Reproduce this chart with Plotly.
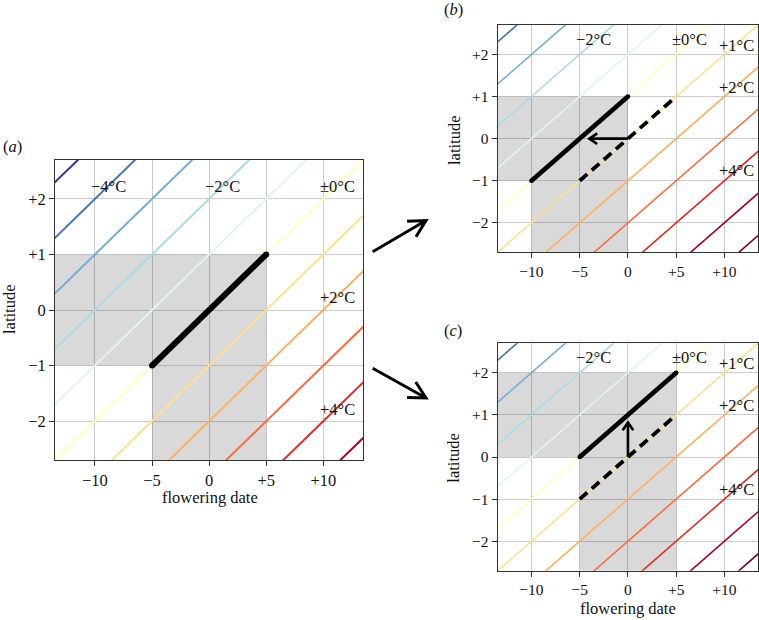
import math
import plotly.graph_objects as go

W, H = 759, 620
FONT = "Liberation Serif, Times New Roman, serif"

# ---------------- data ----------------
date_ticks = [-10, -5, 0, 5, 10]
date_ticktext = ["−10", "−5", "0", "+5", "+10"]
lat_ticks = [-2, -1, 0, 1, 2]
lat_ticktext = ["−2", "−1", "0", "+1", "+2"]
date_range = [-13.5, 13.5]
lat_range = [-2.7, 2.7]

isotherm_slope = 0.2                      # latitude units per flowering-date unit
isotherm_intercepts = [5, 4, 3, 2, 1, 0, -1, -2, -3, -4, -5]
temp_colors = {-5: "#313695", -4: "#4575b4", -3: "#74add1", -2: "#abd9e9",
               -1: "#e0f3f8", 0: "#ffffbf", 1: "#fee090", 2: "#fdae61",
               3: "#f46d43", 4: "#d73027", 5: "#a50026", 6: "#7a0022"}

panel_names = ["a", "b", "c"]
panel_warming = [0, 1, 1]
window_date = [(-5, 5), (-10, 0), (-5, 5)]
window_lat = [(-1, 1), (-1, 1), (0, 2)]
baseline_date = (-5, 5)
baseline_lat = (-1, 1)
shift_from = [None, (0, 0), (0, 0)]
shift_to = [None, (-4, 0), (0, 0.82)]

label_temps = [[-4, -2, 0, 2, 4], [-2, 0, 1, 2, 4], [-2, 0, 1, 2, 4]]
label_date = [[-8.8, 1.2, 11.2, 11.2, 11.2], [-3.6, 6.4, 11.3, 11.3, 11.3],
              [-3.6, 6.4, 11.3, 11.3, 11.3]]
label_lat = [[2.22, 2.22, 2.22, 0.23, -1.79], [2.36, 2.36, 2.22, 1.22, -0.76],
             [2.36, 2.36, 2.22, 1.22, -0.76]]

# ---------------- layout geometry (pixels) ----------------
dom_px = [  # left, right, top, bottom
    (55, 363.3, 160, 460),
    (497.7, 758.2, 25, 252.3),
    (497.7, 758.2, 343.3, 570.7),
]
tick_size = [16.5, 15.5, 15.5]
iso_width = [2.0, 1.6, 1.6]
thick_width = [6.0, 4.6, 4.6]
TXT = 16.5

fig = go.Figure()


def temp_text(t):
    if t == 0:
        return "±0°C"
    return ("+" if t > 0 else "−") + f"{abs(t)}°C"


for i, name in enumerate(panel_names):
    xa = "x" if i == 0 else f"x{i+1}"
    ya = "y" if i == 0 else f"y{i+1}"
    l, r, t, b = dom_px[i]
    sx = (r - l) / (date_range[1] - date_range[0])
    sy = (b - t) / (lat_range[1] - lat_range[0])

    # shading
    d0, d1 = window_date[i]
    y0, y1 = window_lat[i]
    for (ax0, ax1, by0, by1) in [(date_range[0], d1, y0, y1), (d0, d1, lat_range[0], y0)]:
        fig.add_shape(type="rect", xref=xa, yref=ya, x0=ax0, x1=ax1, y0=by0, y1=by1,
                      fillcolor="#d9d9d9", line_width=0, layer="below")

    # isotherms
    for c in isotherm_intercepts:
        T = panel_warming[i] - c
        xs = [date_range[0] - 1, date_range[1] + 1]
        ys = [isotherm_slope * x + c for x in xs]
        fig.add_trace(go.Scatter(x=xs, y=ys, mode="lines", xaxis=xa, yaxis=ya,
                                 line=dict(color=temp_colors[T], width=iso_width[i]),
                                 hoverinfo="skip", showlegend=False))

    # baseline (dashed) in b/c
    if i > 0:
        fig.add_trace(go.Scatter(x=list(baseline_date), y=list(baseline_lat), mode="lines",
                                 xaxis=xa, yaxis=ya,
                                 line=dict(color="black", width=3.8, dash="10px,6px"),
                                 hoverinfo="skip", showlegend=False))

    # thick line
    fig.add_trace(go.Scatter(x=[d0, d1], y=[y0, y1], mode="lines+markers", xaxis=xa, yaxis=ya,
                             line=dict(color="black", width=thick_width[i]),
                             marker=dict(color="black", size=thick_width[i]),
                             hoverinfo="skip", showlegend=False))

    # shift arrow
    if shift_from[i] is not None:
        fx, fy = shift_from[i]
        tx, ty = shift_to[i]
        dxp, dyp = (tx - fx) * sx, (ty - fy) * sy
        L = math.hypot(dxp, dyp)
        ux, uy = dxp / L, dyp / L
        arm, ang = 9.5, math.radians(34)
        pts = []
        for s in (1, -1):
            ca, sa = math.cos(s * ang), math.sin(s * ang)
            rx = ux * ca - uy * sa
            ry = ux * sa + uy * ca
            pts.append((tx - arm * rx / sx, ty - arm * ry / sy))
        xs = [fx, tx, None, pts[0][0], tx, pts[1][0]]
        ys = [fy, ty, None, pts[0][1], ty, pts[1][1]]
        fig.add_trace(go.Scatter(x=xs, y=ys, mode="lines", xaxis=xa, yaxis=ya,
                                 line=dict(color="black", width=2.6),
                                 hoverinfo="skip", showlegend=False))

    # temperature labels
    for T, lx, ly in zip(label_temps[i], label_date[i], label_lat[i]):
        fig.add_annotation(x=lx, y=ly, xref=xa, yref=ya, text=temp_text(T), showarrow=False,
                           xanchor="center", yanchor="middle",
                           font=dict(family=FONT, size=TXT, color="#111"))

    axis_common = dict(showline=True, mirror=True, linecolor="#333", linewidth=1,
                       ticks="outside", ticklen=5, tickcolor="#333", tickwidth=1,
                       showgrid=True, gridcolor="rgba(0,0,0,0.2)", gridwidth=1,
                       zeroline=False, fixedrange=True,
                       tickfont=dict(family=FONT, size=tick_size[i], color="#111"))
    fig.update_layout(**{
        ("xaxis" if i == 0 else f"xaxis{i+1}"): dict(
            domain=[l / W, r / W], range=date_range, anchor=ya,
            tickvals=date_ticks, ticktext=date_ticktext, **axis_common),
        ("yaxis" if i == 0 else f"yaxis{i+1}"): dict(
            domain=[1 - b / H, 1 - t / H], range=lat_range, anchor=xa,
            tickvals=lat_ticks, ticktext=lat_ticktext, **axis_common),
    })

# ---------------- text annotations (paper) ----------------
def paper_ann(px, py, text, angle=0, size=TXT, yanchor="middle"):
    fig.add_annotation(x=px / W, y=1 - py / H, xref="paper", yref="paper", text=text,
                       showarrow=False, xanchor="center", yanchor=yanchor, textangle=angle,
                       font=dict(family=FONT, size=size, color="#111"))

paper_ann(12, 146, "(<i>a</i>)")
paper_ann(453, 9.5, "(<i>b</i>)")
paper_ann(453, 330, "(<i>c</i>)")
paper_ann(9, 310, "latitude", angle=-90)
paper_ann(454, 140, "latitude", angle=-90)
paper_ann(454, 457.7, "latitude", angle=-90)
paper_ann(210, 497, "flowering date")
paper_ann(628, 620, "flowering date", yanchor="bottom")

# ---------------- connecting arrows between panels ----------------
def big_arrow(x0, y0, x1, y1, arm=19, ang_deg=28):
    dx, dy = x1 - x0, y1 - y0
    L = math.hypot(dx, dy)
    ux, uy = dx / L, dy / L
    pts = []
    for s in (1, -1):
        a = math.radians(s * ang_deg)
        rx = ux * math.cos(a) - uy * math.sin(a)
        ry = ux * math.sin(a) + uy * math.cos(a)
        pts.append((x1 - arm * rx, y1 - arm * ry))
    P = lambda x, y: f"{x / W:.5f},{1 - y / H:.5f}"
    path = (f"M {P(x0, y0)} L {P(x1, y1)} M {P(*pts[0])} L {P(x1, y1)} L {P(*pts[1])}")
    fig.add_shape(type="path", xref="paper", yref="paper", path=path,
                  line=dict(color="black", width=3))

big_arrow(372.7, 251.7, 426, 220.5)
big_arrow(372.7, 368.3, 426, 398)

fig.update_layout(width=W, height=H, autosize=False,
                  margin=dict(l=0, r=0, t=0, b=0),
                  paper_bgcolor="white", plot_bgcolor="white", showlegend=False)

fig.write_html("out.html", config={"displayModeBar": False},
               post_script="document.body.style.margin='0px';"
                           "document.body.style.overflow='hidden';"
                           "document.documentElement.style.overflow='hidden';")
